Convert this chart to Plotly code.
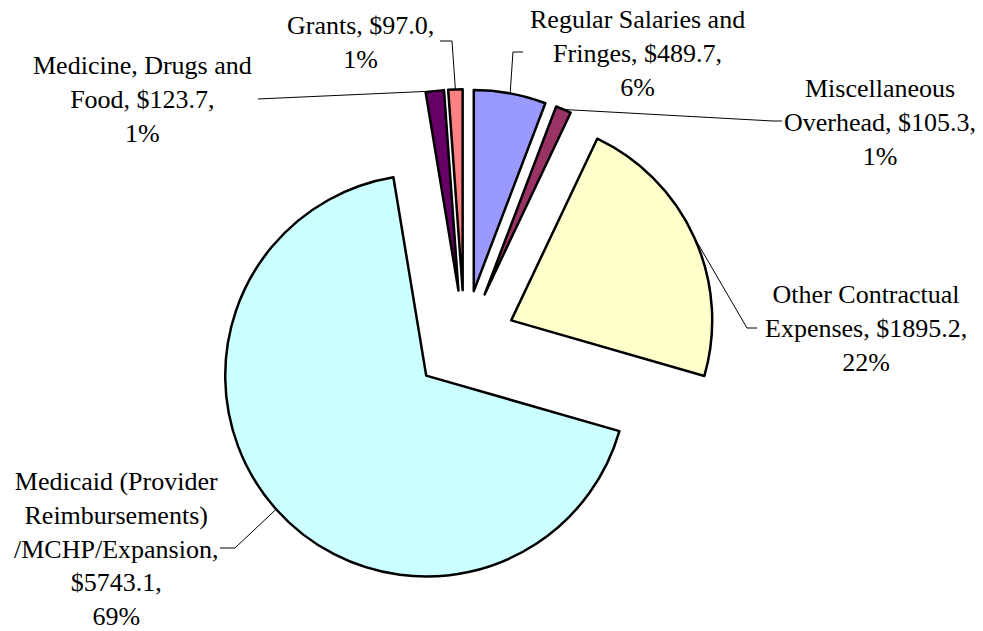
import math
import plotly.graph_objects as go

# ---- data ----
categories = [
    "Regular Salaries and<br>Fringes",
    "Miscellaneous<br>Overhead",
    "Other Contractual<br>Expenses",
    "Medicaid (Provider<br>Reimbursements)<br>/MCHP/Expansion",
    "Medicine, Drugs and<br>Food",
    "Grants",
]
values = [489.7, 105.3, 1895.2, 5743.1, 123.7, 97.0]
percent_labels = ["6%", "1%", "22%", "69%", "1%", "1%"]
colors = ["#9999FF", "#993366", "#FFFFCC", "#CCFFFF", "#660066", "#FF8080"]

# ---- layout geometry (pixels) ----
W, H = 983, 631
CX, CY = 464.5, 341.5
R = 201
PULL = 0.255
half = R * (1 + PULL)

def px(x):
    return x / W

def py(y):
    return 1 - y / H

# label text (joins as in reference)
label_texts = [
    "Regular Salaries and<br>Fringes, $489.7,<br>6%",
    "Miscellaneous<br>Overhead, $105.3,<br>1%",
    "Other Contractual<br>Expenses, $1895.2,<br>22%",
    "Medicaid (Provider<br>Reimbursements)<br>/MCHP/Expansion,<br>$5743.1,<br>69%",
    "Medicine, Drugs and<br>Food, $123.7,<br>1%",
    "Grants, $97.0,<br>1%",
]
# label block centers and leader elbow points (pixels)
label_pos = [(637, 53), (880, 122), (866, 328), (116, 549), (142, 100), (360, 42)]
leader_pts = [
    [(523, 52), (513, 52)],
    [(782, 121), (773, 121)],
    [(757, 328), (747, 328)],
    [(220, 548), (235, 548)],
    [(258, 99)],
    [(440, 41), (452, 41)],
]

fig = go.Figure()
fig.add_trace(go.Pie(
    labels=categories,
    values=values,
    sort=False,
    direction="clockwise",
    rotation=0,
    pull=[PULL] * len(values),
    marker=dict(colors=colors, line=dict(color="black", width=2.5)),
    textinfo="none",
    hoverinfo="label+value+percent",
    showlegend=False,
    domain=dict(x=[px(CX - half), px(CX + half)], y=[py(CY + half), py(CY - half)]),
))

total = sum(values)
cum = 0.0
shapes = []
annotations = []
for i, v in enumerate(values):
    mid = (cum + v / 2) / total * 2 * math.pi
    cum += v
    ax = CX + half * math.sin(mid)
    ay = CY - half * math.cos(mid)
    pts = leader_pts[i] + [(ax, ay)]
    path = "M " + " L ".join(f"{px(x):.5f},{py(y):.5f}" for x, y in pts)
    shapes.append(dict(type="path", xref="paper", yref="paper", path=path,
                       line=dict(color="black", width=1)))
    lx, ly = label_pos[i]
    annotations.append(dict(
        x=px(lx), y=py(ly), xref="paper", yref="paper",
        text=label_texts[i], showarrow=False,
        xanchor="center", yanchor="middle", align="center",
        font=dict(family="Liberation Serif", size=26, color="black"),
    ))

fig.update_layout(
    width=W, height=H,
    margin=dict(l=0, r=0, t=0, b=0),
    paper_bgcolor="white",
    plot_bgcolor="white",
    shapes=shapes,
    annotations=annotations,
)

fig.write_html("out.html")
